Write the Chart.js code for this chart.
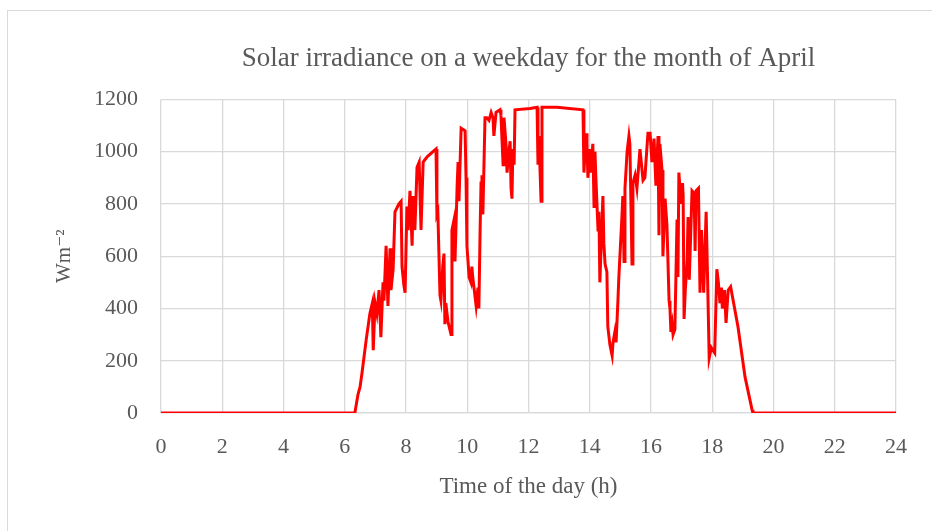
<!DOCTYPE html>
<html>
<head>
<meta charset="utf-8">
<title>Solar irradiance</title>
<script src="https://cdn.jsdelivr.net/npm/chart.js@4.4.0/dist/chart.umd.min.js"></script>
<style>
  html, body { margin: 0; padding: 0; background: #fff; overflow: hidden; }
  #frame { position: absolute; left: 7px; top: 10px; width: 960px; height: 560px; border: 1.5px solid #d9d9d9; }
  #wrap { position: absolute; left: 0; top: 0; width: 932px; height: 531px; }
</style>
</head>
<body>
<div id="frame"></div>
<div id="wrap"><canvas id="solarChart" width="932" height="531"></canvas></div>
<script>
// time of day (h) and irradiance (W/m2)
const hours = [
    0, 6.33, 6.43, 6.5, 6.56, 6.7, 6.82, 6.9, 6.93, 6.99, 7.05, 7.12, 7.18, 7.25, 7.28, 7.35, 7.41, 7.48, 7.51, 7.58, 7.64,
    7.77, 7.84, 7.87, 7.93, 7.97, 8.03, 8.07, 8.13, 8.2, 8.23, 8.29, 8.36, 8.43, 8.49, 8.56, 8.69, 8.88, 8.98,
    9.01, 9.04, 9.11, 9.14, 9.2, 9.24, 9.27, 9.3, 9.37, 9.47, 9.5, 9.57, 9.6, 9.67, 9.7, 9.73, 9.8, 9.93, 9.96, 9.99,
    10.06, 10.12, 10.15, 10.18, 10.29, 10.35, 10.38, 10.42, 10.45, 10.48, 10.51, 10.58, 10.64, 10.71, 10.78, 10.84, 10.87, 10.94,
    11.07, 11.1, 11.17, 11.2, 11.27, 11.3, 11.36, 11.4, 11.43, 11.46, 11.49, 11.53, 11.56, 12.05, 12.28, 12.31, 12.34, 12.41, 12.44, 12.93, 13.78,
    13.81, 13.88, 13.91, 13.94, 14.01, 14.04, 14.1, 14.14, 14.17, 14.2, 14.27, 14.3, 14.33, 14.43, 14.46, 14.5, 14.56, 14.59, 14.66, 14.73, 14.76, 14.82, 14.86, 14.92,
    14.95, 15.05, 15.08, 15.12, 15.15, 15.22, 15.28, 15.31, 15.38, 15.41, 15.48, 15.54, 15.64, 15.74, 15.8, 15.9, 15.97, 16.03, 16.1, 16.16, 16.23, 16.26, 16.29, 16.36,
    16.39, 16.46, 16.52, 16.59, 16.62, 16.65, 16.69, 16.72, 16.78, 16.85, 16.88, 16.91, 16.98, 17.03, 17.05, 17.08, 17.12, 17.18, 17.21, 17.25, 17.34, 17.41, 17.44, 17.47,
    17.55, 17.6, 17.65, 17.72, 17.8, 17.85, 17.9, 17.97, 18.08, 18.15, 18.2, 18.25, 18.3, 18.33, 18.4, 18.45, 18.52, 18.6, 18.84, 19.07, 19.3, 19.33, 24
];
const irradiance = [
    0, 0, 70, 100, 150, 280, 380, 420, 240, 420, 380, 470, 290, 500, 430, 640, 410, 630, 470, 550, 770,
    800, 810, 560, 490, 460, 790, 700, 850, 640, 830, 700, 940, 960, 700, 960, 980, 1000, 1010,
    760, 770, 450, 430, 560, 610, 340, 420, 350, 300, 700, 740, 580, 870, 960, 810, 1090, 1080, 900, 640,
    520, 500, 560, 520, 410, 480, 400, 700, 880, 910, 760, 1130, 1130, 1120, 1150, 1130, 1060, 1150,
    1160, 1140, 950, 1130, 1020, 920, 1000, 1040, 860, 820, 1010, 950, 1160, 1165, 1170, 950, 1060, 810, 1170, 1170, 1160,
    920, 1070, 1030, 900, 1010, 920, 1030, 790, 1000, 900, 700, 770, 500, 830, 650, 570, 540, 330, 260, 220, 270, 310, 270, 430,
    520, 750, 830, 580, 860, 1000, 1060, 1030, 570, 880, 910, 860, 1010, 890, 900, 1070, 1070, 960, 1050, 870, 1060, 680, 1030, 930,
    600, 820, 720, 430, 400, 310, 340, 300, 320, 740, 520, 920, 800, 880, 830, 360, 470, 580, 750, 510, 850, 840, 620, 850,
    860, 460, 700, 460, 770, 500, 210, 250, 230, 550, 500, 420, 480, 400, 470, 345, 470, 483, 330, 138, 12, 0, 0
];
const xTicks = [0, 2, 4, 6, 8, 10, 12, 14, 16, 18, 20, 22, 24];
const yTicks = [0, 200, 400, 600, 800, 1000, 1200];

const textGrey = '#595959';
const gridGrey = '#d9d9d9';
const serif = "'Liberation Serif', 'DejaVu Serif', serif";

function initSolarChart() {
    const ctx = document.getElementById('solarChart').getContext('2d');
    const points = hours.map((h, i) => ({ x: h, y: irradiance[i] }));

    new Chart(ctx, {
        type: 'line',
        data: {
            datasets: [{
                label: 'Solar irradiance',
                data: points,
                borderColor: '#ff0000',
                backgroundColor: '#ff0000',
                borderWidth: 3,
                pointRadius: 0,
                tension: 0,
                fill: false
            }]
        },
        options: {
            responsive: false,
            animation: false,
            layout: { padding: { top: 0, right: 36, bottom: 0, left: 0 } },
            plugins: {
                legend: { display: false },
                tooltip: { enabled: false },
                title: {
                    display: true,
                    fullSize: false,   // centre over the plot area, not the canvas
                    text: 'Solar irradiance on a weekday for the month of April',
                    color: textGrey,
                    font: { family: serif, size: 27, weight: 'normal' },
                    padding: { top: 43, bottom: 24 }
                }
            },
            scales: {
                x: {
                    type: 'linear',
                    min: 0,
                    max: 24,
                    afterBuildTicks: function(scale) {
                        scale.ticks = xTicks.map(v => ({ value: v }));
                    },
                    afterFit: function(scale) { scale.height = 118; },
                    grid: { color: gridGrey, lineWidth: 1.3, drawTicks: false },
                    border: { color: gridGrey, width: 1.3 },
                    ticks: {
                        color: textGrey,
                        padding: 21,
                        maxRotation: 0,
                        font: { family: serif, size: 22 },
                        callback: v => String(v)
                    },
                    title: {
                        display: true,
                        text: 'Time of the day (h)',
                        color: textGrey,
                        font: { family: serif, size: 23 },
                        padding: { top: 4, bottom: 30 }
                    }
                },
                y: {
                    min: 0,
                    max: 1200,
                    afterBuildTicks: function(scale) {
                        scale.ticks = yTicks.map(v => ({ value: v }));
                    },
                    afterFit: function(scale) { scale.width = 161; },
                    grid: { color: gridGrey, lineWidth: 1.3, drawTicks: false },
                    border: { display: false },
                    ticks: {
                        color: textGrey,
                        padding: 23,
                        font: { family: serif, size: 22 },
                        callback: v => String(v)
                    },
                    title: {
                        display: true,
                        text: 'Wm⁻²',
                        color: textGrey,
                        font: { family: serif, size: 21 },
                        padding: { top: 52 }
                    }
                }
            }
        }
    });
}

initSolarChart();
</script>
</body>
</html>
